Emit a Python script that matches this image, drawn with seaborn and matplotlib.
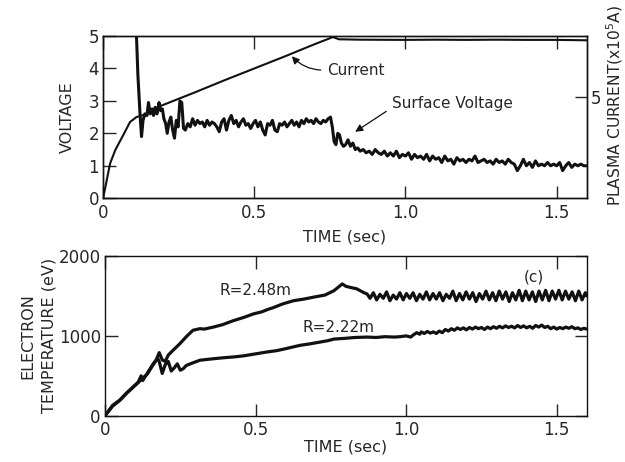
import matplotlib
matplotlib.use("Agg")
import matplotlib.pyplot as plt
import seaborn as sns
import pandas as pd

# ---- top panel: surface voltage (V) and plasma current (x10^5 A) ----
cur_t = [0, 0.023, 0.04, 0.066, 0.089, 0.11, 0.145, 0.178, 0.3, 0.4, 0.5, 0.6, 0.7, 0.76,
         0.78, 0.85, 1.0, 1.1, 1.2, 1.3, 1.4, 1.5, 1.6]
cur_i = [0, 1.71, 2.37, 3.10, 3.76, 4.0, 4.16, 4.48, 5.2, 5.81, 6.4, 6.99, 7.6, 7.95,
         7.84, 7.82, 7.81, 7.82, 7.81, 7.82, 7.81, 7.81, 7.79]

sv_t = [0.108, 0.115, 0.122, 0.127, 0.132, 0.138, 0.145, 0.150, 0.156, 0.162, 0.167, 0.172,
        0.178, 0.185, 0.190, 0.196, 0.201, 0.207, 0.212, 0.218, 0.224, 0.230, 0.236, 0.242,
        0.248, 0.254, 0.260, 0.266, 0.272, 0.280, 0.288, 0.296, 0.304, 0.312, 0.320, 0.328,
        0.336, 0.344, 0.352, 0.360, 0.368, 0.376, 0.384, 0.392, 0.400, 0.408, 0.416, 0.424,
        0.432, 0.440, 0.448, 0.456, 0.464, 0.472, 0.480, 0.488, 0.496, 0.504, 0.512, 0.520,
        0.528, 0.536, 0.544, 0.552, 0.560, 0.568, 0.576, 0.584, 0.592, 0.600, 0.608, 0.616,
        0.624, 0.632, 0.640, 0.648, 0.656, 0.664, 0.672, 0.680, 0.688, 0.696, 0.704, 0.712,
        0.720, 0.728, 0.736, 0.744, 0.752, 0.758, 0.764, 0.770, 0.776, 0.782, 0.788, 0.795,
        0.802, 0.810, 0.818, 0.826, 0.834, 0.842, 0.850, 0.860, 0.870, 0.880, 0.890, 0.900,
        0.910, 0.920, 0.930, 0.940, 0.950, 0.960, 0.970, 0.980, 0.990, 1.000, 1.010, 1.020,
        1.030, 1.040, 1.050, 1.060, 1.070, 1.080, 1.090, 1.100, 1.110, 1.120, 1.130, 1.140,
        1.150, 1.160, 1.170, 1.180, 1.190, 1.200, 1.210, 1.220, 1.230, 1.240, 1.250, 1.260,
        1.270, 1.280, 1.290, 1.300, 1.310, 1.320, 1.330, 1.340, 1.350, 1.360, 1.370, 1.380,
        1.390, 1.400, 1.410, 1.420, 1.430, 1.440, 1.450, 1.460, 1.470, 1.480, 1.490, 1.500,
        1.510, 1.520, 1.530, 1.540, 1.550, 1.560, 1.570, 1.580, 1.590, 1.600]
sv_v = [5.6, 3.8, 2.6, 1.9, 2.4, 2.6, 2.55, 2.95, 2.6, 2.75, 2.55, 2.8,
        2.6, 2.95, 2.7, 2.75, 2.45, 2.3, 2.0, 2.35, 2.5, 2.1, 1.85, 2.4,
        2.2, 3.0, 2.95, 2.15, 2.1, 2.3, 2.2, 2.45, 2.25, 2.4, 2.3, 2.35,
        2.2, 2.4, 2.25, 2.35, 2.3, 2.2, 2.05, 2.35, 2.45, 2.1, 2.4, 2.55,
        2.3, 2.4, 2.2, 2.35, 2.45, 2.25, 2.3, 2.15, 2.3, 2.4, 2.2, 2.35,
        2.1, 1.95, 2.3, 2.25, 2.4, 2.1, 2.05, 2.3, 2.25, 2.35, 2.2, 2.3,
        2.4, 2.25, 2.35, 2.2, 2.4, 2.3, 2.45, 2.35, 2.4, 2.3, 2.45, 2.35,
        2.3, 2.4, 2.35, 2.45, 2.5, 2.2, 1.75, 1.65, 2.0, 1.95, 1.7, 1.6,
        1.65, 1.8, 1.6, 1.7, 1.5, 1.55, 1.45, 1.5, 1.4, 1.45, 1.35, 1.5,
        1.4, 1.35, 1.45, 1.3, 1.4, 1.3, 1.45, 1.25, 1.35, 1.3, 1.4, 1.2,
        1.35, 1.25, 1.3, 1.2, 1.35, 1.15, 1.3, 1.2, 1.25, 1.1, 1.3, 1.15,
        1.2, 1.05, 1.25, 1.15, 1.2, 1.1, 1.2, 1.15, 1.3, 1.1, 1.15, 1.2,
        1.1, 1.15, 1.05, 1.2, 1.1, 1.15, 1.05, 1.2, 1.1, 1.05, 0.85, 1.0,
        1.2, 1.0, 1.1, 0.95, 1.15, 1.0, 1.05, 1.0, 1.1, 1.0, 1.05, 1.0,
        1.1, 0.85, 1.0, 1.1, 0.95, 1.05, 1.0, 1.05, 1.0, 1.0]

# ---- bottom panel: electron temperature (eV) ----
r248_t = [0, 0.025, 0.05, 0.07, 0.09, 0.11, 0.12, 0.125, 0.14, 0.16, 0.17, 0.18, 0.19, 0.20,
          0.21, 0.226, 0.248, 0.27, 0.292, 0.315, 0.33, 0.36, 0.39, 0.426, 0.46, 0.493, 0.52,
          0.54, 0.56, 0.59, 0.626, 0.66, 0.70, 0.73, 0.76, 0.788, 0.80, 0.816, 0.835, 0.85,
          0.86, 0.87, 0.88, 0.891, 0.902, 0.913, 0.924, 0.935, 0.946, 0.957, 0.968, 0.979,
          0.99, 1.001, 1.012, 1.023, 1.034, 1.045, 1.056, 1.067, 1.078, 1.089, 1.10, 1.111,
          1.122, 1.133, 1.144, 1.155, 1.166, 1.177, 1.188, 1.199, 1.21, 1.221, 1.232, 1.243,
          1.254, 1.265, 1.276, 1.287, 1.298, 1.309, 1.32, 1.331, 1.342, 1.353, 1.364, 1.375,
          1.386, 1.397, 1.408, 1.419, 1.43, 1.441, 1.452, 1.463, 1.474, 1.485, 1.496, 1.507,
          1.518, 1.529, 1.54, 1.551, 1.562, 1.573, 1.584, 1.595, 1.60]
r248_te = [0, 130, 200, 280, 350, 420, 500, 440, 530, 650, 700, 790, 700, 680,
           760, 820, 900, 990, 1070, 1090, 1085, 1110, 1140, 1190, 1230, 1275, 1300,
           1330, 1355, 1400, 1440, 1460, 1490, 1510, 1565, 1650, 1620, 1605, 1590, 1560,
           1540, 1525, 1470, 1540, 1450, 1520, 1470, 1550, 1440, 1510, 1460, 1540,
           1450, 1530, 1470, 1540, 1440, 1520, 1460, 1550, 1450, 1530, 1460, 1540,
           1440, 1520, 1470, 1560, 1440, 1530, 1450, 1550, 1460, 1540, 1430, 1530,
           1460, 1560, 1450, 1540, 1440, 1560, 1460, 1550, 1430, 1540, 1450, 1570,
           1440, 1560, 1450, 1550, 1430, 1560, 1450, 1570, 1440, 1560, 1460, 1570,
           1450, 1560, 1460, 1550, 1440, 1560, 1450, 1540, 1500]

r222_t = [0, 0.025, 0.05, 0.07, 0.09, 0.11, 0.125, 0.14, 0.16, 0.175, 0.18, 0.19, 0.20, 0.21,
          0.22, 0.23, 0.24, 0.25, 0.26, 0.27, 0.29, 0.315, 0.35, 0.39, 0.426, 0.46, 0.5, 0.537,
          0.57, 0.6, 0.648, 0.68, 0.715, 0.74, 0.76, 0.8, 0.83, 0.87, 0.9, 0.93, 0.96, 0.98,
          1.0, 1.015, 1.023, 1.035, 1.045, 1.05, 1.06, 1.07, 1.08, 1.09, 1.10, 1.11, 1.12,
          1.13, 1.14, 1.15, 1.16, 1.17, 1.18, 1.19, 1.2, 1.21, 1.22, 1.23, 1.24, 1.25, 1.26,
          1.27, 1.28, 1.29, 1.30, 1.31, 1.32, 1.33, 1.34, 1.35, 1.36, 1.37, 1.38, 1.39, 1.40,
          1.41, 1.42, 1.43, 1.44, 1.45, 1.46, 1.47, 1.48, 1.49, 1.50, 1.51, 1.52, 1.53, 1.54,
          1.55, 1.56, 1.57, 1.58, 1.59, 1.60]
r222_te = [0, 120, 195, 275, 345, 415, 470, 520, 640, 720, 680, 530, 640, 680,
           560, 600, 650, 570, 590, 630, 660, 695, 710, 725, 736, 750, 775, 798,
           815, 840, 882, 900, 923, 940, 960, 970, 980, 985, 980, 990, 985, 990,
           1000, 985, 1010, 1040, 1020, 1050, 1030, 1055, 1035, 1050, 1030, 1060, 1040,
           1080, 1060, 1090, 1070, 1100, 1080, 1100, 1075, 1105, 1085, 1110, 1090, 1105, 1080,
           1110, 1090, 1115, 1095, 1120, 1100, 1125, 1105, 1120, 1100, 1130, 1105, 1125, 1100,
           1120, 1095, 1130, 1110, 1135, 1105, 1120, 1090, 1110, 1085, 1105, 1090, 1110, 1095,
           1115, 1090, 1100, 1080, 1095, 1085]

sns.set_style("ticks")
plt.rcParams['font.family'] = ['DejaVu Sans']
plt.rcParams['xtick.direction'] = 'in'
plt.rcParams['ytick.direction'] = 'in'

fig = plt.figure(figsize=(6.25, 4.62), dpi=100)
ax1 = fig.add_axes([0.165, 0.571, 0.774, 0.351])
ax3 = fig.add_axes([0.168, 0.100, 0.771, 0.346])

ink = '#111111'

# top panel
df_sv = pd.DataFrame({'t': sv_t, 'v': sv_v})
sns.lineplot(data=df_sv, x='t', y='v', ax=ax1, color=ink, lw=2.2, sort=False)
ax1.set_xlim(0, 1.6)
ax1.set_ylim(0, 5)
ax1.set_yticks([0, 1, 2, 3, 4, 5])
ax1.set_xticks([0, 0.5, 1.0, 1.5])
ax1.set_xticklabels(['0', '0.5', '1.0', '1.5'])
ax1.tick_params(axis='x', top=True, length=9, width=1, labelsize=12, pad=4)
ax1.tick_params(axis='y', length=9, width=1, labelsize=12, pad=3)
ax1.set_xlabel('TIME (sec)', fontsize=11.5)
ax1.set_ylabel('VOLTAGE', fontsize=11.5)
ax1.xaxis.set_label_coords(0.5, -0.19)
ax1.yaxis.set_label_coords(-0.058, 0.5)

ax2 = ax1.twinx()
df_cur = pd.DataFrame({'t': cur_t, 'i': cur_i})
sns.lineplot(data=df_cur, x='t', y='i', ax=ax2, color=ink, lw=1.5, sort=False)
ax2.set_ylim(0, 8.0)
ax2.set_yticks([5])
ax2.tick_params(axis='y', length=9, width=1, labelsize=12, pad=3)
ax2.set_ylabel('PLASMA CURRENT(x10$^5$A)', fontsize=11.2)
ax2.yaxis.set_label_coords(1.035, 0.57)

ax1.annotate('Current', xy=(0.618, 4.44), xytext=(0.74, 3.95), fontsize=11,
             ha='left', va='center',
             arrowprops=dict(arrowstyle='-|>', color=ink, lw=0.9,
                             connectionstyle='arc3,rad=-0.25', relpos=(0, 0.5)))
ax1.annotate('Surface Voltage', xy=(0.826, 2.0), xytext=(0.955, 2.93), fontsize=11,
             ha='left', va='center',
             arrowprops=dict(arrowstyle='-|>', color=ink, lw=0.9, relpos=(0, 0.2)))

# bottom panel
df_te = pd.concat([
    pd.DataFrame({'t': r248_t, 'te': r248_te, 'R': 'R=2.48m'}),
    pd.DataFrame({'t': r222_t, 'te': r222_te, 'R': 'R=2.22m'}),
])
sns.lineplot(data=df_te, x='t', y='te', units='R', estimator=None, ax=ax3,
             color=ink, lw=2.3, sort=False)
ax3.set_xlim(0, 1.6)
ax3.set_ylim(0, 2000)
ax3.set_yticks([0, 1000, 2000])
ax3.set_xticks([0, 0.5, 1.0, 1.5])
ax3.set_xticklabels(['0', '0.5', '1.0', '1.5'])
ax3.tick_params(axis='x', top=True, length=9, width=1, labelsize=12, pad=4)
ax3.tick_params(axis='y', right=True, length=9, width=1, labelsize=12, pad=3)
ax3.set_xlabel('TIME (sec)', fontsize=11.5)
ax3.set_ylabel('ELECTRON\nTEMPERATURE (eV)', fontsize=11.5, linespacing=1.5)
ax3.xaxis.set_label_coords(0.5, -0.15)
ax3.yaxis.set_label_coords(-0.1, 0.5)

ax3.text(0.38, 1570, 'R=2.48m', fontsize=11, ha='left', va='center')
ax3.text(0.656, 1110, 'R=2.22m', fontsize=11, ha='left', va='center')
ax3.text(1.39, 1735, '(c)', fontsize=11, ha='left', va='center')

for ax in (ax1, ax2, ax3):
    for sp in ax.spines.values():
        sp.set_linewidth(1.0)
        sp.set_color(ink)

fig.savefig('out.png', dpi=100)
